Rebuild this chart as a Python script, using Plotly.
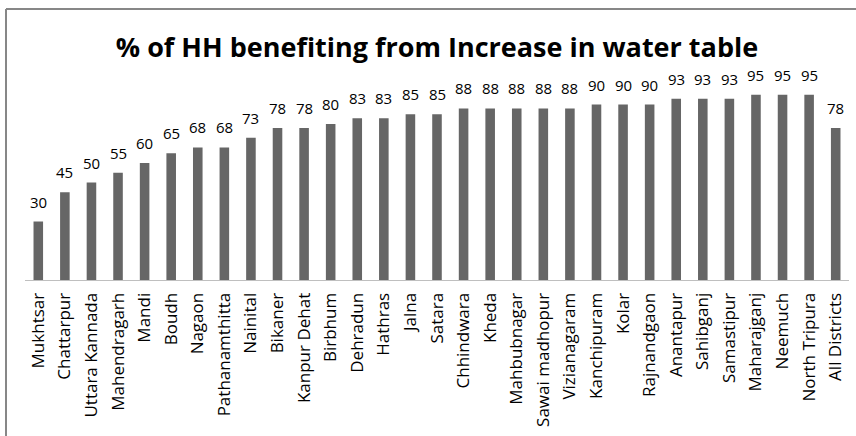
import plotly.graph_objects as go

districts = [
    "Mukhtsar", "Chattarpur", "Uttara Kannada", "Mahendragarh", "Mandi", "Boudh",
    "Nagaon", "Pathanamthitta", "Nainital", "Bikaner", "Kanpur Dehat", "Birbhum",
    "Dehradun", "Hathras", "Jalna", "Satara", "Chhindwara", "Kheda", "Mahbubnagar",
    "Sawai madhopur", "Vizianagaram", "Kanchipuram", "Kolar", "Rajnandgaon",
    "Anantapur", "Sahibganj", "Samastipur", "Maharajganj", "Neemuch", "North Tripura",
    "All Districts",
]
pct_hh = [30, 45, 50, 55, 60, 65, 68, 68, 73, 78, 78, 80, 83, 83, 85, 85, 88, 88, 88,
          88, 88, 90, 90, 90, 93, 93, 93, 95, 95, 95, 78]

FONT = "Open Sans"
W, H = 856, 436
ML, MR, MT, MB = 25, 7, 85, 156
PW, PH = W - ML - MR, H - MT - MB


def px_x(x):
    return (x - ML) / PW


def px_y(y):
    return (H - MB - y) / PH


fig = go.Figure(
    go.Bar(
        x=districts,
        y=pct_hh,
        marker=dict(color="#666666", line=dict(width=0)),
        width=0.36,
        cliponaxis=False,
    )
)

# value labels sitting just above each bar
for name, val in zip(districts, pct_hh):
    fig.add_annotation(
        x=name, y=val, text=str(val), showarrow=False,
        xanchor="center", yanchor="bottom", yshift=8,
        font=dict(family=FONT, size=15, color="#000000"),
    )

frame = dict(color="#878787", width=2)

fig.update_layout(
    width=W,
    height=H,
    margin=dict(l=ML, r=MR, t=MT, b=MB),
    paper_bgcolor="white",
    plot_bgcolor="white",
    showlegend=False,
    title=dict(
        text="<b>% of HH benefiting from Increase in water table</b>",
        font=dict(family=FONT, size=27, color="#000000"),
        x=437 / W, xanchor="center", y=0.892, yanchor="middle",
    ),
    xaxis=dict(
        tickangle=-90,
        tickfont=dict(family=FONT, size=17, color="#000000"),
        showline=True, linecolor="#bfbfbf", linewidth=1,
        ticks="", showgrid=False, ticklabelstandoff=5,
    ),
    yaxis=dict(range=[0, 100], visible=False, showgrid=False),
    shapes=[
        # outer frame: left and top edges
        dict(type="line", xref="paper", yref="paper", layer="above",
             x0=px_x(6), x1=px_x(6), y0=px_y(436), y1=px_y(9), line=frame),
        dict(type="line", xref="paper", yref="paper", layer="above",
             x0=px_x(6), x1=px_x(856), y0=px_y(9), y1=px_y(9), line=frame),
    ],
)

fig.write_html("out.html")
